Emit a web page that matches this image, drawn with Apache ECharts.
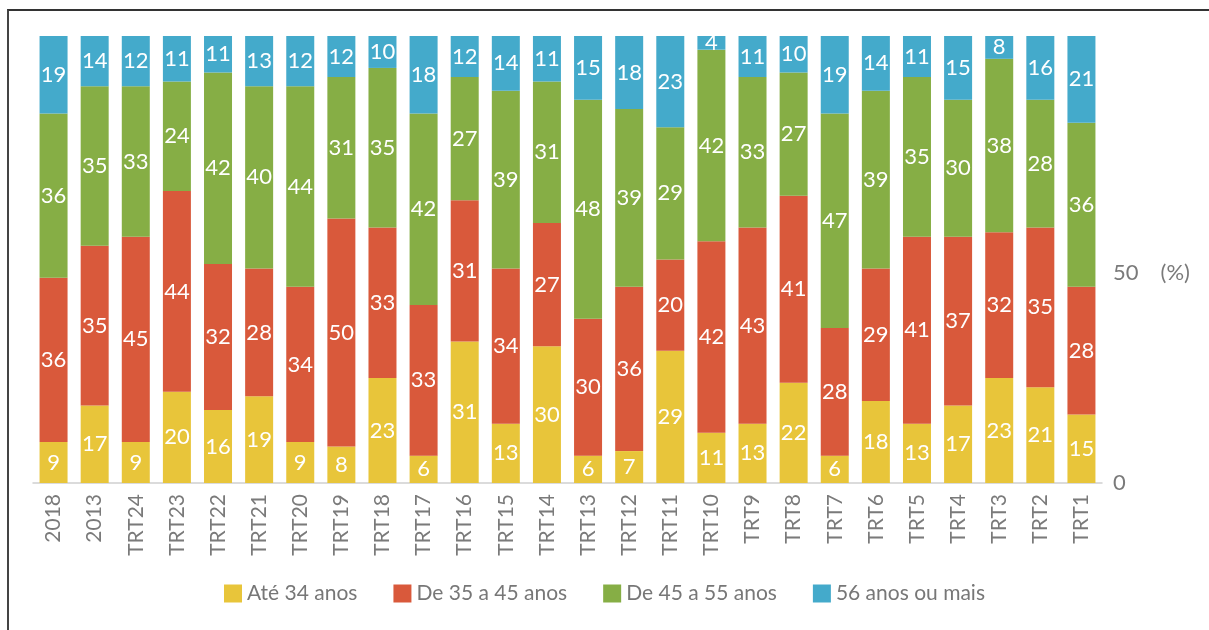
<!DOCTYPE html>
<html>
<head>
<meta charset="utf-8">
<script src="https://cdn.jsdelivr.net/npm/echarts@6/dist/echarts.min.js"></script>
<style>
  html, body { margin: 0; padding: 0; background: #fff; }
  #chart { width: 1209px; height: 630px; }
  #frame { position: absolute; left: 7px; top: 9px; width: 1202px; height: 621px;
           border-top: 2px solid #333; border-left: 2px solid #444; pointer-events: none; }
</style>
</head>
<body>
<div id="chart"></div>
<div id="frame"></div>
<script>
// categorias (eixo x)
var categorias = ['2018','2013','TRT24','TRT23','TRT22','TRT21','TRT20','TRT19','TRT18','TRT17',
  'TRT16','TRT15','TRT14','TRT13','TRT12','TRT11','TRT10','TRT9','TRT8','TRT7',
  'TRT6','TRT5','TRT4','TRT3','TRT2','TRT1'];

// faixas etarias (%)
var ate34   = [9,17,9,20,16,19,9,8,23,6,31,13,30,6,7,29,11,13,22,6,18,13,17,23,21,15];
var de35a45 = [36,35,45,44,32,28,34,50,33,33,31,34,27,30,36,20,42,43,41,28,29,41,37,32,35,28];
var de45a55 = [36,35,33,24,42,40,44,31,35,42,27,39,31,48,39,29,42,33,27,47,39,35,30,38,28,36];
var mais56  = [19,14,12,11,11,13,12,12,10,18,12,14,11,15,18,23,4,11,10,19,14,11,15,8,16,21];

var nomes = ['Até 34 anos', 'De 35 a 45 anos', 'De 45 a 55 anos', '56 anos ou mais'];
var cores = ['#E8C53A', '#D9593B', '#86AE45', '#44AACB'];
var valores = [ate34, de35a45, de45a55, mais56];

var fonte = 'Lato, "Open Sans", sans-serif';

var series = valores.map(function (arr, k) {
  return {
    name: nomes[k],
    type: 'bar',
    stack: 'total',
    barWidth: 28,
    clip: true,
    itemStyle: { color: cores[k] },
    label: {
      show: true,
      position: 'inside',
      color: '#fff',
      fontSize: 22,
      fontFamily: fonte
    },
    data: arr
  };
});

var chart = echarts.init(document.getElementById('chart'));
chart.setOption({
  animation: false,
  textStyle: { fontFamily: fonte },
  grid: { left: 33, right: 107, top: 36, bottom: 147 },
  legend: {
    data: nomes,
    bottom: 21,
    left: 'center',
    itemWidth: 18,
    itemHeight: 18,
    itemGap: 36,
    icon: 'rect',
    textStyle: { color: '#777', fontSize: 21, fontFamily: fonte }
  },
  xAxis: {
    type: 'category',
    data: categorias,
    axisLine: { lineStyle: { color: '#d0d0d0', width: 1.5 } },
    axisTick: { show: false },
    axisLabel: { rotate: 90, color: '#7a7a7a', fontSize: 21, margin: 11, fontFamily: fonte }
  },
  yAxis: [{
    type: 'value',
    min: 0,
    max: 98,
    show: false
  }, {
    type: 'value',
    position: 'right',
    min: 0,
    max: 106.4,
    interval: 50,
    splitLine: { show: false },
    axisLine: { show: false },
    axisTick: { show: false },
    axisLabel: {
      color: '#7a7a7a',
      fontSize: 22,
      margin: 11,
      fontFamily: fonte,
      formatter: function (v) {
        if (v === 0) return '0';
        if (v === 50) return '50{u|(%)}';
        return '';
      },
      rich: { u: { color: '#7a7a7a', fontSize: 22, fontFamily: fonte, padding: [0, 0, 0, 22] } }
    }
  }],
  series: series
});
</script>
</body>
</html>
